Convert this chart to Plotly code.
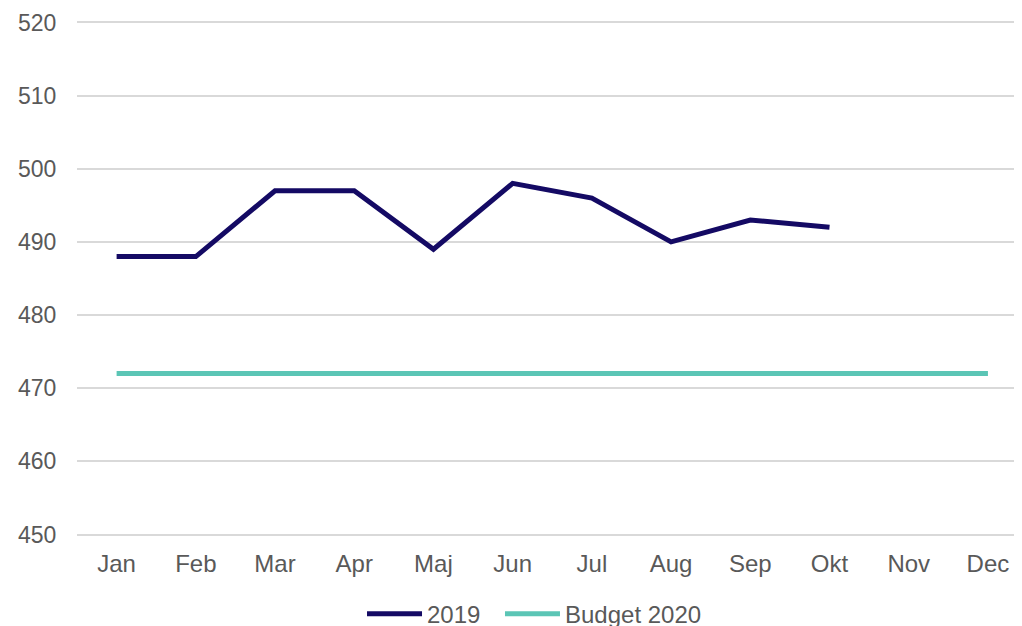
import plotly.graph_objects as go

months = ["Jan", "Feb", "Mar", "Apr", "Maj", "Jun", "Jul", "Aug", "Sep", "Okt", "Nov", "Dec"]
values_2019 = [488, 488, 497, 497, 489, 498, 496, 490, 493, 492]
budget_2020 = [472] * 12
y_ticks = [450, 460, 470, 480, 490, 500, 510, 520]

fig = go.Figure()
fig.add_trace(go.Scatter(
    x=list(range(len(values_2019))), y=values_2019, mode="lines", name="2019",
    line=dict(color="#140a64", width=5), legend="legend",
))
fig.add_trace(go.Scatter(
    x=list(range(len(budget_2020))), y=budget_2020, mode="lines", name="Budget 2020",
    line=dict(color="#5bc5b5", width=5), legend="legend2",
))

fam = "Liberation Sans, Arial, sans-serif"
col = "#595959"
leg_font = dict(family=fam, size=24, color=col)

# the page body has an 8px margin, so the figure is sized/offset to compensate
fig.update_layout(
    width=1014, height=618,
    margin=dict(l=69, r=0, t=12.5, b=90, autoexpand=False),
    plot_bgcolor="white", paper_bgcolor="white",
    font=dict(family=fam, size=23, color=col),
    showlegend=True,
    legend=dict(orientation="h", x=0.3016, xanchor="left", y=-0.108, yanchor="top",
                font=leg_font, itemwidth=55),
    legend2=dict(orientation="h", x=0.4476, xanchor="left", y=-0.108, yanchor="top",
                 font=leg_font, itemwidth=55),
    xaxis=dict(
        range=[-0.5, 11.43], tickmode="array", tickvals=list(range(12)), ticktext=months,
        showgrid=False, zeroline=False, showline=False, automargin=False,
        ticks="outside", ticklen=6, tickcolor="rgba(0,0,0,0)",
        tickfont=dict(family=fam, size=24, color=col),
    ),
    yaxis=dict(
        range=[449.8, 520.2], tickmode="array", tickvals=y_ticks,
        showgrid=True, gridcolor="#d9d9d9", gridwidth=1.5, zeroline=False, showline=False,
        automargin=False,
        ticks="outside", ticklen=15, tickcolor="rgba(0,0,0,0)",
        tickfont=dict(family=fam, size=23, color=col),
    ),
)

fig.write_html("out.html")
